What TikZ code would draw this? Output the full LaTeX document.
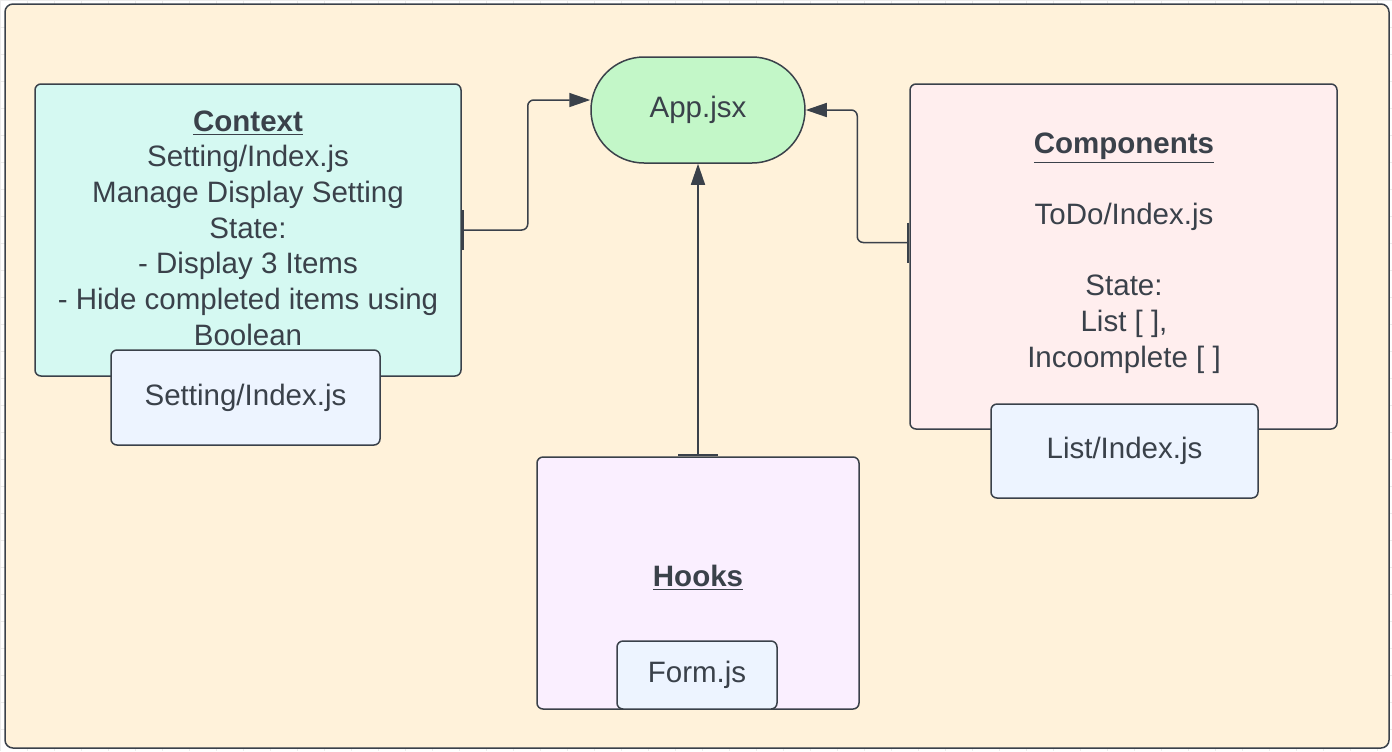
\documentclass[tikz,border=0pt]{standalone}
\usepackage{fontspec}
\setmainfont{Liberation Sans}
\usetikzlibrary{arrows.meta}
\definecolor{linec}{HTML}{3A414A}
\definecolor{txtc}{HTML}{3A414A}
\definecolor{cream}{HTML}{FFF2DA}
\definecolor{mint}{HTML}{D5F9F2}
\definecolor{appgreen}{HTML}{C3F7C8}
\definecolor{pinkb}{HTML}{FFEEEE}
\definecolor{lav}{HTML}{FAEFFF}
\definecolor{subblue}{HTML}{EDF4FF}
\definecolor{gridc}{HTML}{ECECEC}
\begin{document}
\begin{tikzpicture}[x=0.5pt,y=-0.5pt,
  boxst/.style={draw=linec, line width=0.75pt, rounded corners=3pt, inner sep=0pt},
  txtst/.style={text=txtc, font=\fontsize{14.75}{17.85}\selectfont, align=center, inner sep=0pt},
  subst/.style={boxst, fill=subblue, text=txtc, font=\fontsize{14.75}{17.85}\selectfont, align=center},
  conn/.style={draw=linec, line width=0.75pt, rounded corners=3pt,
    {Bar[width=20pt,line width=1pt]}-{Triangle[length=10.5pt,width=7pt]}}]
\useasboundingbox (0,0) rectangle (1392,751);
\fill[white] (0,0) rectangle (1392,751);
\draw[gridc, line width=0.4pt, step=13.5pt] (0,0) grid (1392,751);
\draw[linec, fill=cream, line width=0.75pt, rounded corners=4pt] (5,4) rectangle (1389,748);
% Context
\node[boxst, fill=mint, minimum width=213pt, minimum height=146pt] (ctx) at (248,230) {};
\node[txtst] (ctxt) at (248,228) {\underline{\textbf{Context}}\\Setting/Index.js\\Manage Display Setting\\State:\\- Display 3 Items\\- Hide completed items using\\Boolean};
\node[subst, minimum width=134.5pt, minimum height=47.5pt] (set) at (245.5,397.5) {Setting/Index.js};
% App
\node[boxst, fill=appgreen, rounded corners=26.5pt, minimum width=107pt, minimum height=53pt, text=txtc, font=\fontsize{14.75}{17.85}\selectfont] (app) at (698,110) {App.jsx};
% Components
\node[boxst, fill=pinkb, minimum width=213.5pt, minimum height=172.5pt] (comp) at (1123.5,256.5) {};
\node[txtst] (compt) at (1124,253) {\underline{\textbf{Components}}\\[17.85pt]ToDo/Index.js\\[17.85pt]State:\\List [ ],\\Incoomplete [ ]};
\node[subst, minimum width=133.5pt, minimum height=47pt] (list) at (1124.5,451) {List/Index.js};
% Hooks
\node[boxst, fill=lav, minimum width=161pt, minimum height=126pt] (hooks) at (698,583) {};
\node[txtst] (hookst) at (698,578) {\underline{\textbf{Hooks}}};
\node[subst, minimum width=80pt, minimum height=34pt] (form) at (697,675) {Form.js};
% connectors
\draw[conn] (ctx.east) -- ++(33pt,0) |- ([yshift=5pt]app.west);
\draw[conn] ([yshift=7pt]comp.west) -- ++(-26pt,0) |- (app.east);
\draw[conn] (hooks.north) -- (app.south);
\end{tikzpicture}
\end{document}
